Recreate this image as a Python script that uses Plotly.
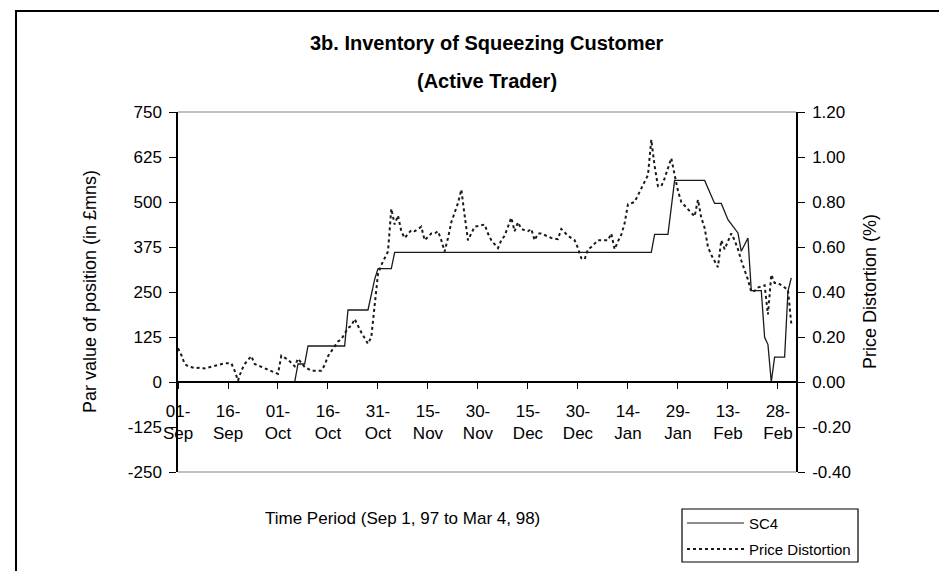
import plotly.graph_objects as go

# ---------------- data ----------------
sc4_dates = ["1997-09-01", "1997-10-06", "1997-10-07", "1997-10-09", "1997-10-10",
             "1997-10-21", "1997-10-22", "1997-10-28", "1997-10-30", "1997-10-31",
             "1997-11-04", "1997-11-05", "1998-01-21", "1998-01-22", "1998-01-26",
             "1998-01-28", "1998-02-06", "1998-02-09", "1998-02-11", "1998-02-13",
             "1998-02-16", "1998-02-17", "1998-02-19", "1998-02-20", "1998-02-23",
             "1998-02-24", "1998-02-25", "1998-02-26", "1998-02-27", "1998-03-02",
             "1998-03-03", "1998-03-04"]
sc4_values = [0, 0, 50, 50, 100,
              100, 200, 200, 285, 315,
              315, 360, 360, 410, 410,
              560, 560, 496, 496, 451,
              414, 363, 400, 254, 254,
              124, 104, 0, 69, 69,
              252, 289]

pd_dates = ["1997-09-01", "1997-09-02", "1997-09-03", "1997-09-04", "1997-09-06",
            "1997-09-08", "1997-09-09", "1997-09-12", "1997-09-15", "1997-09-17",
            "1997-09-18", "1997-09-19", "1997-09-20", "1997-09-21", "1997-09-23",
            "1997-09-24", "1997-09-26", "1997-09-29", "1997-10-01", "1997-10-02",
            "1997-10-04", "1997-10-06", "1997-10-07", "1997-10-09", "1997-10-11",
            "1997-10-14", "1997-10-15", "1997-10-16", "1997-10-18", "1997-10-19",
            "1997-10-20", "1997-10-22", "1997-10-23", "1997-10-24", "1997-10-26",
            "1997-10-28", "1997-10-29", "1997-10-30", "1997-10-31", "1997-11-01",
            "1997-11-02", "1997-11-03", "1997-11-04", "1997-11-05", "1997-11-06",
            "1997-11-07", "1997-11-08", "1997-11-10", "1997-11-11", "1997-11-12",
            "1997-11-13", "1997-11-14", "1997-11-16", "1997-11-17", "1997-11-18",
            "1997-11-19", "1997-11-20", "1997-11-21", "1997-11-22", "1997-11-24",
            "1997-11-25", "1997-11-26", "1997-11-27", "1997-11-29", "1997-12-02",
            "1997-12-03", "1997-12-04", "1997-12-06", "1997-12-07", "1997-12-08",
            "1997-12-09", "1997-12-10", "1997-12-11", "1997-12-12", "1997-12-13",
            "1997-12-15", "1997-12-16", "1997-12-17", "1997-12-18", "1997-12-19",
            "1997-12-22", "1997-12-24", "1997-12-25", "1997-12-27", "1997-12-29",
            "1997-12-30", "1997-12-31", "1998-01-01", "1998-01-02", "1998-01-03",
            "1998-01-05", "1998-01-07", "1998-01-08", "1998-01-09", "1998-01-10",
            "1998-01-11", "1998-01-12", "1998-01-13", "1998-01-14", "1998-01-16",
            "1998-01-17", "1998-01-18", "1998-01-19", "1998-01-20", "1998-01-21",
            "1998-01-22", "1998-01-23", "1998-01-24", "1998-01-25", "1998-01-26",
            "1998-01-27", "1998-01-28", "1998-01-29", "1998-01-30", "1998-02-01",
            "1998-02-03", "1998-02-04", "1998-02-05", "1998-02-06", "1998-02-07",
            "1998-02-08", "1998-02-10", "1998-02-11", "1998-02-12", "1998-02-13",
            "1998-02-14", "1998-02-15", "1998-02-16", "1998-02-17", "1998-02-18",
            "1998-02-19", "1998-02-20", "1998-02-21", "1998-02-22", "1998-02-24",
            "1998-02-25", "1998-02-26", "1998-02-27", "1998-02-28", "1998-03-02",
            "1998-03-03", "1998-03-04"]
pd_values = [0.15, 0.12, 0.08, 0.07, 0.062,
             0.064, 0.06, 0.07, 0.083, 0.083,
             0.05, 0.006, 0.05, 0.08, 0.115,
             0.08, 0.067, 0.05, 0.036, 0.117,
             0.10, 0.07, 0.104, 0.067, 0.05,
             0.05, 0.075, 0.115, 0.16, 0.18,
             0.19, 0.24, 0.25, 0.28, 0.22,
             0.17, 0.20, 0.35, 0.48, 0.52,
             0.55, 0.58, 0.77, 0.70, 0.74,
             0.67, 0.64, 0.675, 0.67, 0.68,
             0.69, 0.63, 0.66, 0.66, 0.67,
             0.63, 0.58, 0.64, 0.71, 0.795,
             0.855, 0.74, 0.63, 0.69, 0.70,
             0.66, 0.63, 0.595, 0.63, 0.65,
             0.69, 0.73, 0.67, 0.71, 0.68,
             0.67, 0.68, 0.63, 0.66, 0.66,
             0.64, 0.635, 0.68, 0.65, 0.63,
             0.595, 0.55, 0.545, 0.59, 0.60,
             0.63, 0.63, 0.63, 0.66, 0.59,
             0.625, 0.655, 0.705, 0.79, 0.80,
             0.83, 0.855, 0.885, 0.92, 1.077,
             0.96, 0.87, 0.87, 0.905, 0.95,
             0.995, 0.92, 0.85, 0.80, 0.766,
             0.736, 0.81, 0.73, 0.685, 0.60,
             0.565, 0.51, 0.63, 0.59, 0.625,
             0.66, 0.63, 0.59, 0.54, 0.50,
             0.455, 0.40, 0.405, 0.42, 0.43,
             0.30, 0.477, 0.44, 0.44, 0.42,
             0.41, 0.26]

tick_dates = ["1997-09-01", "1997-09-16", "1997-10-01", "1997-10-16", "1997-10-31",
              "1997-11-15", "1997-11-30", "1997-12-15", "1997-12-30", "1998-01-14",
              "1998-01-29", "1998-02-13", "1998-02-28"]
tick_labels = ["01-<br>Sep", "16-<br>Sep", "01-<br>Oct", "16-<br>Oct", "31-<br>Oct",
               "15-<br>Nov", "30-<br>Nov", "15-<br>Dec", "30-<br>Dec", "14-<br>Jan",
               "29-<br>Jan", "13-<br>Feb", "28-<br>Feb"]

left_ticks = [-250, -125, 0, 125, 250, 375, 500, 625, 750]
left_labels = ["-250", "-125", "0", "125", "250", "375", "500", "625", "750"]
right_ticks = [-0.4, -0.2, 0.0, 0.2, 0.4, 0.6, 0.8, 1.0, 1.2]
right_labels = ["-0.40", "-0.20", "0.00", "0.20", "0.40", "0.60", "0.80", "1.00", "1.20"]

series_names = ["SC4", "Price Distortion"]

# ---------------- figure ----------------
W, H = 947, 571
L, R, T, B = 170, 159, 104, 107
pw, ph = W - L - R, H - T - B


def px(x):
    return (x - L) / pw


def py(y):
    return (H - B - y) / ph


FONT = "Liberation Sans, Arial, sans-serif"
LINE_COLOR = "#1a1a1a"

fig = go.Figure()
fig.add_trace(go.Scatter(x=sc4_dates, y=sc4_values, name=series_names[0], mode="lines",
                         line=dict(color=LINE_COLOR, width=1.3), yaxis="y",
                         showlegend=False))
fig.add_trace(go.Scatter(x=pd_dates, y=pd_values, name=series_names[1], mode="lines",
                         line=dict(color=LINE_COLOR, width=2, dash="dot"), yaxis="y2",
                         showlegend=False))

TICKF = dict(size=17, family=FONT, color="black")

fig.update_layout(
    width=W, height=H,
    margin=dict(l=L, r=R, t=T, b=B),
    paper_bgcolor="white", plot_bgcolor="white",
    font=dict(family=FONT, color="black", size=15),
    showlegend=False,
    xaxis=dict(type="date", range=["1997-09-01", "1998-03-05 10:00"],
               tickmode="array", tickvals=tick_dates, ticktext=tick_labels,
               anchor="free", position=0.25, showline=True, linecolor="black",
               linewidth=1.5, ticks="outside", ticklen=6, tickcolor="black",
               showgrid=False, zeroline=False, tickfont=TICKF, ticklabelstandoff=8),
    yaxis=dict(range=[-250, 750], tickmode="array", tickvals=left_ticks,
               ticktext=left_labels, showline=True,
               linecolor="black", linewidth=1.5, ticks="outside", ticklen=7,
               tickcolor="black", showgrid=False, zeroline=False,
               tickfont=TICKF, ticklabelstandoff=4),
    yaxis2=dict(range=[-0.4, 1.2], tickmode="array", tickvals=right_ticks,
                ticktext=right_labels,
                overlaying="y", side="right", showline=True, linecolor="black",
                linewidth=1.5, ticks="outside", ticklen=7, tickcolor="black",
                showgrid=False, zeroline=False, tickfont=TICKF,
                ticklabelstandoff=4),
)

# plot area top/bottom gray borders and outer frame
fig.add_shape(type="line", xref="paper", yref="paper", x0=0, x1=1, y0=1, y1=1,
              line=dict(color="#c0c0c0", width=2))
fig.add_shape(type="line", xref="paper", yref="paper", x0=0, x1=1, y0=0, y1=0,
              line=dict(color="#c0c0c0", width=2))
fig.add_shape(type="rect", xref="paper", yref="paper",
              x0=px(8), x1=px(943), y0=py(585), y1=py(3),
              line=dict(color="black", width=2), layer="above")

# custom legend (box, line samples, labels)
fig.add_shape(type="rect", xref="paper", yref="paper",
              x0=px(674), x1=px(850), y0=py(554), y1=py(501),
              line=dict(color="black", width=1.2), fillcolor="white")
fig.add_shape(type="line", xref="paper", yref="paper",
              x0=px(679), x1=px(736), y0=py(515), y1=py(515),
              line=dict(color=LINE_COLOR, width=1.2))
fig.add_shape(type="line", xref="paper", yref="paper",
              x0=px(679), x1=px(736), y0=py(541), y1=py(541),
              line=dict(color=LINE_COLOR, width=2, dash="dot"))
fig.add_annotation(text=series_names[0], xref="paper", yref="paper",
                   x=px(739), y=py(515), showarrow=False, xanchor="left", yanchor="middle",
                   font=dict(size=15, family=FONT))
fig.add_annotation(text=series_names[1], xref="paper", yref="paper",
                   x=px(739), y=py(541), showarrow=False, xanchor="left", yanchor="middle",
                   font=dict(size=15, family=FONT))

# titles
fig.add_annotation(text="<b>3b. Inventory of Squeezing Customer</b>", xref="paper", yref="paper",
                   x=0.5, y=py(35), showarrow=False, font=dict(size=20, family=FONT),
                   xanchor="center", yanchor="middle")
fig.add_annotation(text="<b>(Active Trader)</b>", xref="paper", yref="paper",
                   x=0.5, y=py(73), showarrow=False, font=dict(size=20, family=FONT),
                   xanchor="center", yanchor="middle")
fig.add_annotation(text="Par value of position (in £mns)", xref="paper", yref="paper",
                   x=px(82), y=py(284), showarrow=False, textangle=-90,
                   font=dict(size=18, family=FONT), xanchor="center", yanchor="middle")
fig.add_annotation(text="Price Distortion (%)", xref="paper", yref="paper",
                   x=px(862), y=py(284), showarrow=False, textangle=-90,
                   font=dict(size=18, family=FONT), xanchor="center", yanchor="middle")
fig.add_annotation(text="Time Period (Sep 1, 97 to Mar 4, 98)", xref="paper", yref="paper",
                   x=px(394), y=py(510), showarrow=False,
                   font=dict(size=17, family=FONT), xanchor="center", yanchor="middle")

fig.write_html("out.html")
